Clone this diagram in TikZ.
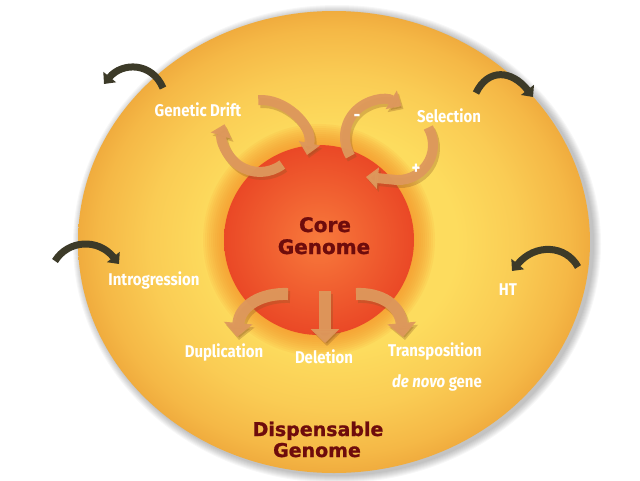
\documentclass[tikz,border=0pt]{standalone}
\usepackage{fontspec}
\usetikzlibrary{arrows.meta}
\newfontfamily\labfont{Fira Sans}[FakeStretch=0.88]
\newfontfamily\titlefont{DejaVu Sans}[UprightFont={* Bold}, FakeBold=1.1]
\definecolor{edgeor}{RGB}{240,172,62}
\definecolor{edgeone}{RGB}{245,184,70}
\definecolor{yeltwo}{RGB}{250,204,84}
\definecolor{midyel}{RGB}{253,220,94}
\definecolor{glowor}{RGB}{246,145,40}
\definecolor{coreinner}{RGB}{248,122,60}
\definecolor{coreouter}{RGB}{234,72,38}
\definecolor{tanc}{RGB}{222,152,92}
\definecolor{shadc}{RGB}{140,85,35}
\definecolor{darkol}{RGB}{60,58,40}
\definecolor{darkred}{RGB}{110,12,12}
\pgfdeclareradialshading{outerfill}{\pgfpoint{0bp}{0bp}}{color(0bp)=(midyel); color(12bp)=(midyel); color(18bp)=(yeltwo); color(23bp)=(edgeone); color(25bp)=(edgeor); color(50bp)=(edgeor)}
\tikzset{
  lab/.style={text=white, anchor=base, font={\labfont\bfseries\fontsize{17}{20}\selectfont}},
  sign/.style={text=white, font={\labfont\bfseries\fontsize{19}{20}\selectfont}},
  big/.style={text=darkred, anchor=base, font={\titlefont\fontsize{20}{24}\selectfont}},
  bigsmall/.style={text=darkred, anchor=base, font={\titlefont\fontsize{19}{23}\selectfont}},
  tanarrow/.style={draw=tanc, line width=10pt, opacity=0.95, -{Triangle[width=21pt,length=12pt]}},
  tanshadow/.style={draw=shadc, line width=10pt, opacity=0.3, transform canvas={shift={(2pt,-3pt)}}, -{Triangle[width=21pt,length=12pt]}},
  bigtan/.style={draw=tanc, line width=12pt, opacity=0.95, -{Triangle[width=28pt,length=14pt]}},
  bigshadow/.style={draw=shadc, line width=12pt, opacity=0.3, transform canvas={shift={(2pt,-3pt)}}, -{Triangle[width=28pt,length=14pt]}},
  darkarrow/.style={draw=darkol, line width=7pt, -{Triangle[width=16pt,length=9pt]}},
}
\begin{document}
\begin{tikzpicture}[x=1pt,y=-1pt]
\useasboundingbox (0,0) rectangle (640,480);
\fill[white] (0,0) rectangle (640,480);
% shadow halo of the outer ellipse
\foreach \i in {1,...,8} {
  \fill[black, opacity=0.03] (337,244) ellipse ({256+\i} and {231+\i});
}
% outer ellipse
\shade[shading=outerfill] (334,242) ellipse (256 and 231);
% glow around core
\foreach \i in {0,...,10} {
  \fill[glowor, opacity=0.1] (319,240) circle ({96+2*\i});
}
% core
\shade[inner color=coreinner, outer color=coreouter] (319,240) circle (95);
% coordinates for arrows
\coordinate (ga1) at (258.3,100.2);
\coordinate (ga2) at (307,155);
\coordinate (gb1) at (282.3,164.5);
\coordinate (gbm) at (238.8,165.3);
\coordinate (gb2) at (224.6,124.2);
\coordinate (sc1) at (350.3,156.1);
\coordinate (scm) at (355.6,111.1);
\coordinate (sc2) at (401.5,106);
\coordinate (sd1) at (428.3,127.5);
\coordinate (sdm) at (426.7,165.1);
\coordinate (sdn) at (391.9,179.5);
\coordinate (sd2) at (366,177);
\coordinate (du1) at (288,294);
\coordinate (du2) at (237,337);
\coordinate (de1) at (325,291);
\coordinate (de2) at (325,343);
\coordinate (tr1) at (356,294);
\coordinate (tr2) at (403,337);
% tan arrows: shadow then body
\foreach \sty in {tanshadow,tanarrow} {
  \draw[\sty] (ga1) .. controls (283.4,97.6) and (313.4,124.5) .. (ga2);
  \draw[\sty] (gb1) .. controls (269.5,174.1) and (251.9,174.5) .. (gbm) .. controls (225.7,156.1) and (219.9,139.5) .. (gb2);
  \draw[\sty] (sc1) .. controls (341.6,141.6) and (343.8,123.1) .. (scm) .. controls (367.4,99.1) and (385.9,96.6) .. (sc2);
  \draw[\sty] (sd1) .. controls (435.1,139.3) and (434.5,154.0) .. (sdm) .. controls (418.9,176.2) and (405.3,181.9) .. (sdn) -- (sd2);
}
\foreach \sty in {bigshadow,bigtan} {
  \draw[\sty] (du1) .. controls (262,293) and (240,305) .. (du2);
  \draw[\sty] (de1) -- (de2);
  \draw[\sty] (tr1) .. controls (381,293) and (400,305) .. (tr2);
}
% dark arrows
\coordinate (k1a) at (163,88);
\coordinate (k1b) at (104,84);
\coordinate (k2a) at (476,93);
\coordinate (k2b) at (533,97);
\coordinate (k3a) at (55,261);
\coordinate (k3b) at (119,264);
\coordinate (k4a) at (578,267);
\coordinate (k4b) at (512,271);
\draw[darkarrow] (k1a) .. controls (152,62) and (122,62) .. (k1b);
\draw[darkarrow] (k2a) .. controls (488,68) and (512,70) .. (k2b);
\draw[darkarrow] (k3a) .. controls (68,240) and (98,238) .. (k3b);
\draw[darkarrow] (k4a) .. controls (566,245) and (535,243) .. (k4b);
% labels
\node[lab] (gd) at (198,116) {Genetic Drift};
\node[lab] (sel) at (449,122) {Selection};
\node[lab] (intro) at (154,285) {Introgression};
\node[lab] (ht) at (508,295) {HT};
\node[lab] (dup) at (224,357) {Duplication};
\node[lab] (del) at (324,363) {Deletion};
\node[lab] (trans) at (435,356) {Transposition};
\node[lab] (dn) at (437,387) {\itshape de novo\upshape{} gene};
\node[sign] (minus) at (357,118) {-};
\node[sign] (plus) at (416,169) {+};
\node[big] (core1) at (325,232) {Core};
\node[big] (core2) at (324,254) {Genome};
\node[bigsmall] (disp1) at (318,436) {Dispensable};
\node[bigsmall] (disp2) at (317,457) {Genome};
\end{tikzpicture}
\end{document}
